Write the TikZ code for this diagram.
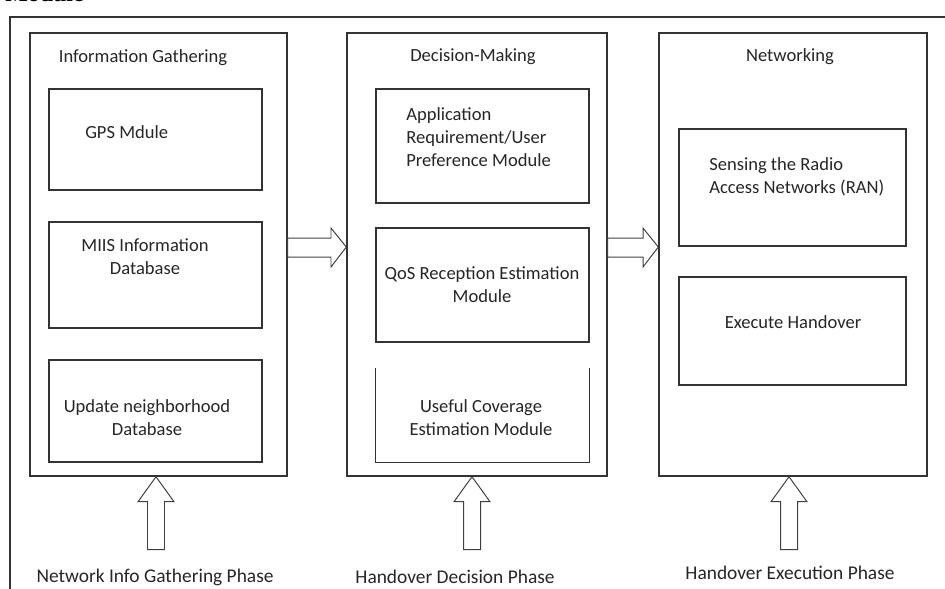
\documentclass[tikz,border=0pt]{standalone}
\usepackage{fontspec}
\setmainfont{Carlito}
\newfontfamily\capfont{Liberation Serif}
\usetikzlibrary{positioning,calc}

\begin{document}
\begin{tikzpicture}[
  x=0.025cm,y=-0.025cm,
  col/.style={draw=black!80,line width=0.95pt,minimum height=11.075cm,inner sep=0pt},
  mod/.style={draw=black!80,line width=0.95pt,minimum width=5.325cm,inner sep=0pt},
  txt/.style={font=\fontsize{13.2}{16.5}\selectfont,inner sep=0pt,text=black!85},
  phase/.style={font=\fontsize{13.8}{16.5}\selectfont,inner sep=0pt,text=black!85},
  blk/.style={draw=black!75,line width=0.7pt}
]
\useasboundingbox (0,0) rectangle (945,588);
% caption remains and outer frame
\node[font=\capfont\bfseries\fontsize{17}{20}\selectfont,inner sep=0pt,anchor=base west] (cap) at (5,1) {Module};
\draw[black!80,line width=0.95pt] (960,17) -- (10,17) -- (10,600);

% three stages
\node[col,minimum width=6.425cm] (c1) at (158.5,254.5) {};
\node[col,minimum width=6.5cm] (c2) at (477,254.5) {};
\node[col,minimum width=6.7cm] (c3) at (793,254.5) {};
\node[txt] (h1) at (143,58) {Information Gathering};
\node[txt] (h2) at (473,57) {Decision-Making};
\node[txt] (h3) at (790,57) {Networking};

% modules
\node[mod,minimum height=2.525cm] (gps) at (155.5,139.5) {};
\node[mod,minimum height=2.65cm] (miis) at (155.5,275) {};
\node[mod,minimum height=2.55cm] (upd) at (155.5,411) {};
\node[mod,minimum height=2.85cm] (app) at (482.5,146) {};
\node[mod,minimum height=2.85cm] (qos) at (482.5,285) {};
\node[mod,draw=none,minimum height=2.325cm] (cov) at (482.5,415.5) {};
\draw[black!80,line width=0.95pt] (cov.north west) -- (cov.south west) -- (cov.south east) -- (cov.north east);
\node[mod,minimum width=5.675cm,minimum height=2.925cm] (sens) at (792.5,187.5) {};
\node[mod,minimum width=5.675cm,minimum height=2.7cm] (exe) at (792.5,331) {};

\node[txt,anchor=west] (tgps) at (85,132) {GPS Mdule};
\node[txt,align=center] (tmiis) at (145,257) {MIIS Information\\Database};
\node[txt,align=center] (tupd) at (147,418) {Update neighborhood\\Database};
\node[txt,align=left,anchor=west] (tapp) at (406,137) {Application\\Requirement/User\\Preference Module};
\node[txt,align=center] (tqos) at (482,285) {QoS Reception Estimation\\Module};
\node[txt,align=center] (tcov) at (481,418) {Useful Coverage\\Estimation Module};
\node[txt,align=left,anchor=west] (tsens) at (709,177) {Sensing the Radio\\Access Networks (RAN)};
\node[txt] (texe) at (793,322) {Execute Handover};

% phases
\node[phase] (p1) at (155,577) {Network Info Gathering Phase};
\node[phase] (p2) at (455,577) {Handover Decision Phase};
\node[phase] (p3) at (790,573) {Handover Execution Phase};

% hollow arrows
\draw[blk] (c1.east |- 0,238) -- (331,238) -- (331,228) -- (c2.west |- 0,247) -- (331,267) -- (331,257) -- (c1.east |- 0,257) -- cycle;
\draw[blk] (c2.east |- 0,238) -- (643,238) -- (643,228) -- (c3.west |- 0,247) -- (643,267) -- (643,257) -- (c2.east |- 0,257) -- cycle;
\draw[blk] (156,0 |- c1.south) -- ++(18,25) -- ++(-9.5,0) -- ++(0,48) -- ++(-17,0) -- ++(0,-48) -- ++(-9.5,0) -- cycle;
\draw[blk] (472,0 |- c2.south) -- ++(18,25) -- ++(-9.5,0) -- ++(0,48) -- ++(-17,0) -- ++(0,-48) -- ++(-9.5,0) -- cycle;
\draw[blk] (789,0 |- c3.south) -- ++(18,25) -- ++(-9.5,0) -- ++(0,48) -- ++(-17,0) -- ++(0,-48) -- ++(-9.5,0) -- cycle;
\end{tikzpicture}
\end{document}
